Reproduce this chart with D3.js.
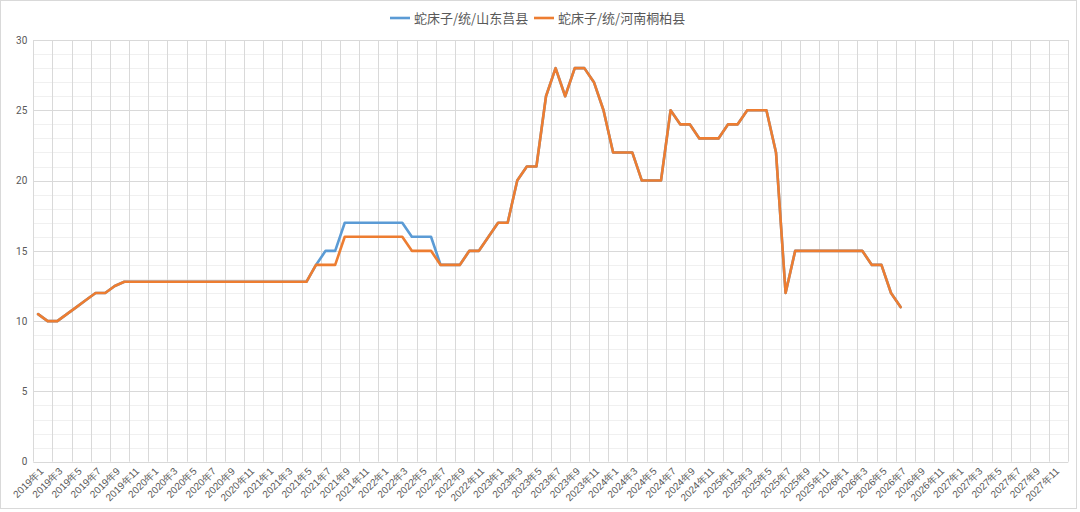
<!DOCTYPE html>
<html>
<head>
<meta charset="utf-8">
<script src="https://cdn.jsdelivr.net/npm/d3@7"></script>
<style>
  body { margin: 0; background: #fff; }
  svg { display: block; font-family: "Noto Sans CJK SC", "Noto Sans", sans-serif; }
  .grid-major { stroke: #d9d9d9; stroke-width: 1; }
  .grid-minor { stroke: #f0f0f0; stroke-width: 1; }
  .tick-label { fill: #595959; }
</style>
</head>
<body>
<script>
// Months 2019年1 .. 2027年12
var years = [2019, 2020, 2021, 2022, 2023, 2024, 2025, 2026, 2027];
var months = [1, 2, 3, 4, 5, 6, 7, 8, 9, 10, 11, 12];
var categories = [];
years.forEach(function(y) { months.forEach(function(m) { categories.push(y + "年" + m); }); });

var seriesNames = ["蛇床子/统/山东莒县", "蛇床子/统/河南桐柏县"];
var seriesColors = ["#5b9bd5", "#ed7d31"];

// 山东莒县 (hidden under the orange line where equal)
var shandong = [
  10.5, 10, 10, 10.5, 11, 11.5, 12, 12, 12.5, 12.8, 12.8, 12.8,
  12.8, 12.8, 12.8, 12.8, 12.8, 12.8, 12.8, 12.8, 12.8, 12.8, 12.8, 12.8,
  12.8, 12.8, 12.8, 12.8, 12.8, 14, 15, 15, 17, 17, 17, 17,
  17, 17, 17, 16, 16, 16, 14, 14, 14, 15, 15, 16,
  17, 17, 20, 21, 21, 26, 28, 26, 28, 28, 27, 25,
  22, 22, 22, 20, 20, 20, 25, 24, 24, 23, 23, 23,
  24, 24, 25, 25, 25, 22, 12, 15, 15, 15, 15, 15,
  15, 15, 15, 14, 14, 12, 11
];

// 河南桐柏县
var henan = [
  10.5, 10, 10, 10.5, 11, 11.5, 12, 12, 12.5, 12.8, 12.8, 12.8,
  12.8, 12.8, 12.8, 12.8, 12.8, 12.8, 12.8, 12.8, 12.8, 12.8, 12.8, 12.8,
  12.8, 12.8, 12.8, 12.8, 12.8, 14, 14, 14, 16, 16, 16, 16,
  16, 16, 16, 15, 15, 15, 14, 14, 14, 15, 15, 16,
  17, 17, 20, 21, 21, 26, 28, 26, 28, 28, 27, 25,
  22, 22, 22, 20, 20, 20, 25, 24, 24, 23, 23, 23,
  24, 24, 25, 25, 25, 22, 12, 15, 15, 15, 15, 15,
  15, 15, 15, 14, 14, 12, 11
];

var yTicks = [0, 5, 10, 15, 20, 25, 30];
var yMinor = d3.range(0, 31, 1);

var w = 1080, h = 512;
var plotLeft = 33.3, plotRight = 1068.3, plotTop = 40, plotBottom = 461.7;

var svg = d3.select("body").append("svg")
    .attr("width", w)
    .attr("height", h);

// outer chart border
svg.append("rect")
    .attr("x", 0.5).attr("y", 0.5)
    .attr("width", 1076).attr("height", 508)
    .attr("fill", "#fff")
    .attr("stroke", "#d9d9d9");

var x = d3.scaleBand().domain(categories).range([plotLeft, plotRight]);
var y = d3.scaleLinear().domain([0, 30]).range([plotBottom, plotTop]);

// minor horizontal grid
svg.append("g").selectAll("line")
    .data(yMinor.filter(function(v) { return v % 5 !== 0; }))
    .enter().append("line")
    .attr("class", "grid-minor")
    .attr("x1", plotLeft).attr("x2", plotRight)
    .attr("y1", function(d) { return Math.round(y(d)) + 0.5; })
    .attr("y2", function(d) { return Math.round(y(d)) + 0.5; });

// vertical grid every 2 months
var vLines = categories.filter(function(c, i) { return i % 2 === 0; })
    .map(function(c) { return x(c); });
vLines.push(plotRight);
svg.append("g").selectAll("line")
    .data(vLines)
    .enter().append("line")
    .attr("class", "grid-major")
    .attr("x1", function(d) { return Math.round(d) + 0.5; })
    .attr("x2", function(d) { return Math.round(d) + 0.5; })
    .attr("y1", plotTop).attr("y2", plotBottom);

// major horizontal grid
svg.append("g").selectAll("line")
    .data(yTicks)
    .enter().append("line")
    .attr("class", "grid-major")
    .attr("x1", plotLeft).attr("x2", plotRight)
    .attr("y1", function(d) { return Math.round(y(d)) + 0.5; })
    .attr("y2", function(d) { return Math.round(y(d)) + 0.5; });

// y axis labels
var yAxis = svg.append("g")
    .attr("transform", "translate(" + (plotLeft - 6) + ",0)")
    .call(d3.axisLeft(y).tickValues(yTicks).tickSize(0).tickPadding(0));
yAxis.select(".domain").remove();
yAxis.selectAll("text")
    .attr("class", "tick-label")
    .style("font-size", "10px")
    .style("font-family", "Roboto, 'Noto Sans', sans-serif");

// x axis labels (odd months)
var xAxis = svg.append("g")
    .attr("transform", "translate(0," + plotBottom + ")")
    .call(d3.axisBottom(x)
        .tickValues(categories.filter(function(c, i) { return i % 2 === 0; }))
        .tickSize(0).tickPadding(0));
xAxis.select(".domain").remove();
xAxis.selectAll("text")
    .attr("class", "tick-label")
    .style("font-size", "10px")
    .attr("text-anchor", "end")
    .attr("dy", null)
    .attr("y", 0)
    .attr("transform", "translate(6,10) rotate(-45)");

// lines
var line = d3.line()
    .defined(function(d) { return d != null; })
    .x(function(d, i) { return x(categories[i]) + x.bandwidth() / 2; })
    .y(function(d) { return y(d); });

[shandong, henan].forEach(function(data, k) {
    svg.append("path")
        .datum(data)
        .attr("fill", "none")
        .attr("stroke", seriesColors[k])
        .attr("stroke-width", 2.6)
        .attr("stroke-linejoin", "round")
        .attr("stroke-linecap", "round")
        .attr("d", line);
});

// legend
var legend = svg.append("g").attr("transform", "translate(0,18)");
var legX = [390, 534];
seriesNames.forEach(function(name, k) {
    legend.append("line")
        .attr("x1", legX[k]).attr("x2", legX[k] + 20)
        .attr("y1", 0).attr("y2", 0)
        .attr("stroke", seriesColors[k])
        .attr("stroke-width", 2.6);
    legend.append("text")
        .attr("x", legX[k] + 24)
        .attr("y", 0)
        .attr("dy", "0.35em")
        .attr("fill", "#595959")
        .style("font-size", "13px")
        .text(name);
});
</script>
</body>
</html>
